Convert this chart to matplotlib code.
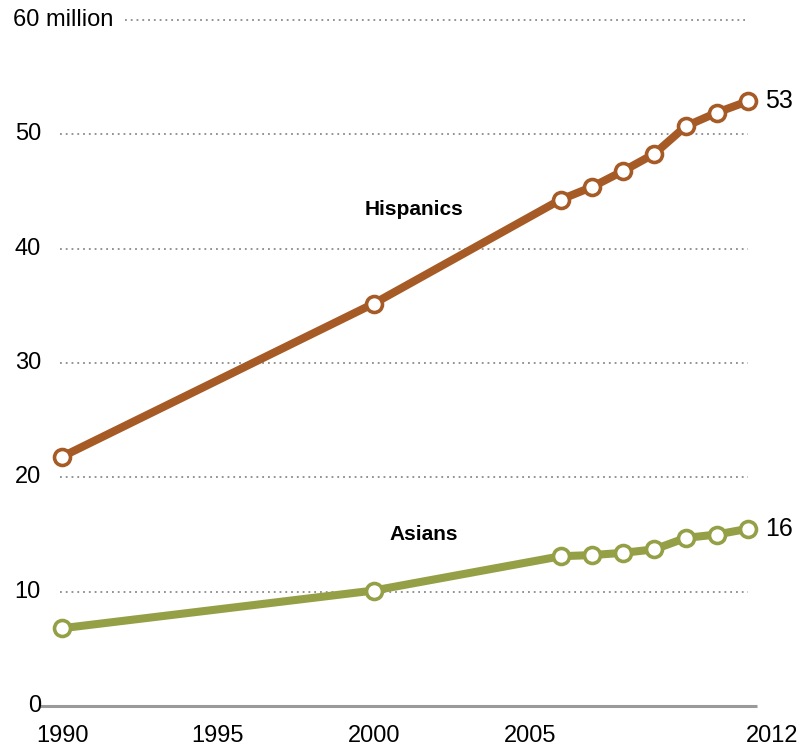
import matplotlib
matplotlib.use("Agg")
import matplotlib.pyplot as plt
from matplotlib.transforms import blended_transform_factory, offset_copy

plt.rcParams['font.family'] = ['Liberation Sans', 'DejaVu Sans']

years = [1990, 2000, 2006, 2007, 2008, 2009, 2010, 2011, 2012]
hispanics = [21.8, 35.2, 44.3, 45.4, 46.8, 48.3, 50.7, 51.9, 52.9]
asians = [6.8, 10.1, 13.1, 13.2, 13.4, 13.7, 14.7, 15.0, 15.5]
y_ticks = [0, 10, 20, 30, 40, 50, 60]
y_labels = ["0", "10", "20", "30", "40", "50", "60 million"]
x_ticks = [1990, 1995, 2000, 2005, 2012]
x_labels = ["1990", "1995", "2000", "2005", "2012"]

hisp_color = "#A65B26"
asian_color = "#95A046"

fig = plt.figure(figsize=(8.07, 7.49), dpi=100)
ax = fig.add_axes([62/807, 43/749, 686/807, 686/749])
ax.set_xlim(1990, 2012)
ax.set_ylim(0, 60)
ax.axis("off")

dx_per_px = 22/686.0

# gridlines
for t in y_ticks[1:]:
    x0 = 1990 - 2*dx_per_px if t != 60 else 1990 + 63*dx_per_px
    ax.plot([x0, 2012], [t, t], color="#8a8a8a", lw=1.3, ls=(0, (1, 2.2)),
            clip_on=False, zorder=1)
# zero line
ax.plot([1990 - 22*dx_per_px, 2012 + 9*dx_per_px], [0, 0], color="#9a9a9a",
        lw=2.2, clip_on=False, zorder=1, solid_capstyle="butt")

# y labels
tr = blended_transform_factory(fig.transFigure, ax.transData)
for t, lab in zip(y_ticks, y_labels):
    if t == 60:
        ax.text(13/807, t, lab, transform=tr, ha="left", va="center", fontsize=17)
    else:
        ax.text(41/807, t, lab, transform=tr, ha="right", va="center", fontsize=17)

# x labels
trx = blended_transform_factory(ax.transData, fig.transFigure)
for t, lab in zip(x_ticks, x_labels):
    ha = "center" if t != 2012 else "left"
    xx = t if t != 2012 else t - 2*dx_per_px
    ax.text(xx, 13/749, lab, transform=trx, ha=ha, va="center", fontsize=17)

for vals, col in [(hispanics, hisp_color), (asians, asian_color)]:
    ax.plot(years, vals, color=col, lw=5.8, marker="o", markersize=11.5,
            markerfacecolor="white", markeredgecolor=col, markeredgewidth=2.6,
            clip_on=False, zorder=3, solid_joinstyle="round")

ax.text(2012, hispanics[-1], "53", fontsize=18, ha="left", va="center",
        transform=offset_copy(ax.transData, fig=fig, x=12, y=0, units="points"))
ax.text(2012, asians[-1], "16", fontsize=18, ha="left", va="center",
        transform=offset_copy(ax.transData, fig=fig, x=12, y=0, units="points"))

ax.text(2001.3, 43.4, "Hispanics", fontsize=15, fontweight="bold", ha="center", va="center")
ax.text(2001.6, 15.0, "Asians", fontsize=15, fontweight="bold", ha="center", va="center")

fig.savefig("out.png", dpi=100)
